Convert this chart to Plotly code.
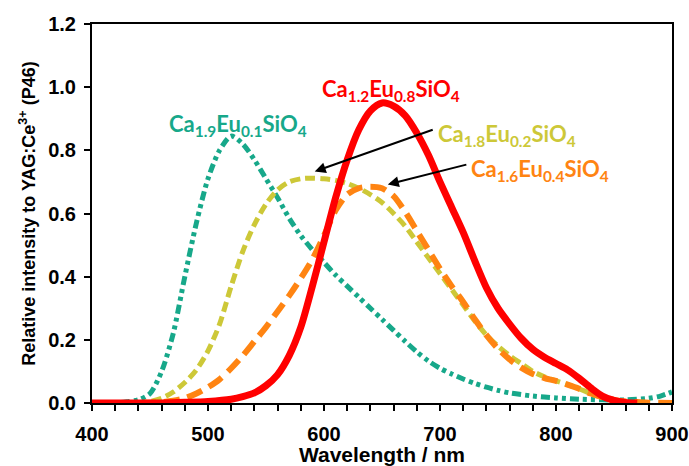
import plotly.graph_objects as go

# ---------------- data ----------------
teal_x = [400, 420, 430, 440, 450, 460, 470, 480, 490, 500, 510, 520, 530, 540, 550, 560, 570, 580, 590, 600,
          610, 620, 630, 640, 650, 660, 670, 680, 690, 700, 710, 720, 730, 740, 750, 760, 780, 800, 820, 840,
          860, 880, 890, 900]
teal_y = [0.0, 0.0, 0.004, 0.01, 0.03, 0.10, 0.22, 0.40, 0.57, 0.71, 0.80, 0.845, 0.82, 0.77, 0.71, 0.65, 0.585, 0.53, 0.485, 0.445,
          0.405, 0.37, 0.335, 0.30, 0.265, 0.23, 0.195, 0.162, 0.133, 0.11, 0.092, 0.076, 0.062, 0.05, 0.04, 0.032, 0.022, 0.016, 0.012, 0.01,
          0.01, 0.015, 0.022, 0.035]

yellow_x = [400, 440, 450, 460, 470, 480, 490, 500, 510, 520, 530, 540, 550, 560, 570, 580, 590, 600, 610, 620,
            630, 640, 650, 660, 670, 680, 690, 700, 710, 720, 730, 740, 750, 760, 770, 780, 790, 800, 810, 820,
            830, 840, 850, 860]
yellow_y = [0.0, 0.0, 0.005, 0.015, 0.035, 0.065, 0.105, 0.165, 0.25, 0.37, 0.48, 0.565, 0.63, 0.675, 0.70, 0.71, 0.712, 0.71, 0.705, 0.695,
            0.68, 0.66, 0.635, 0.60, 0.56, 0.51, 0.46, 0.41, 0.36, 0.31, 0.26, 0.215, 0.18, 0.15, 0.125, 0.10, 0.083, 0.07, 0.058, 0.045,
            0.03, 0.017, 0.008, 0.003]

orange_x = [400, 440, 460, 470, 480, 490, 500, 510, 520, 530, 540, 550, 560, 570, 580, 590, 600, 610, 620, 630,
            640, 650, 660, 670, 680, 690, 700, 710, 720, 730, 740, 750, 760, 770, 780, 790, 800, 810, 820, 830,
            840, 850, 860, 870, 880, 900]
orange_y = [0.0, 0.0, 0.003, 0.007, 0.015, 0.03, 0.05, 0.075, 0.11, 0.15, 0.195, 0.24, 0.29, 0.34, 0.395, 0.455, 0.53, 0.61, 0.66, 0.68,
            0.685, 0.68, 0.655, 0.605, 0.545, 0.485, 0.425, 0.37, 0.32, 0.265, 0.215, 0.172, 0.138, 0.112, 0.092, 0.079, 0.07, 0.058, 0.045, 0.03,
            0.018, 0.01, 0.005, 0.003, 0.001, 0.0]

red_x = [400, 420, 440, 460, 480, 500, 520, 530, 540, 550, 560, 570, 580, 590, 600, 610, 620, 630, 640, 650,
         660, 670, 680, 690, 700, 710, 720, 730, 740, 750, 760, 770, 780, 790, 800, 810, 820, 830, 840, 850,
         860, 870]
red_y = [0.0, 0.0, 0.0, 0.0, 0.002, 0.005, 0.012, 0.02, 0.032, 0.055, 0.09, 0.15, 0.24, 0.37, 0.51, 0.65, 0.77, 0.865, 0.925, 0.95,
         0.94, 0.91, 0.855, 0.785, 0.70, 0.62, 0.54, 0.45, 0.365, 0.30, 0.25, 0.205, 0.17, 0.145, 0.125, 0.105, 0.078, 0.048, 0.022, 0.008,
         0.002, 0.0]

x_ticks = [400, 500, 600, 700, 800, 900]
y_ticks = [0.0, 0.2, 0.4, 0.6, 0.8, 1.0, 1.2]

TEAL = "#17a88a"
YELLOW = "#cdc838"
ORANGE = "#ff8412"
RED = "#ff0000"

fig = go.Figure()
fig.add_trace(go.Scatter(x=teal_x, y=teal_y, mode="lines",
                         line=dict(color=TEAL, width=5, shape="spline", smoothing=0.8,
                                   dash="9px,4px,4px,4px,4px,4px")))
fig.add_trace(go.Scatter(x=yellow_x, y=yellow_y, mode="lines",
                         line=dict(color=YELLOW, width=5, shape="spline", smoothing=0.8, dash="10px,5px")))
fig.add_trace(go.Scatter(x=orange_x, y=orange_y, mode="lines",
                         line=dict(color=ORANGE, width=6, shape="spline", smoothing=0.8, dash="16px,8px")))
fig.add_trace(go.Scatter(x=red_x, y=red_y, mode="lines",
                         line=dict(color=RED, width=7, shape="spline", smoothing=0.8)))

lab_font = "Lato, Open Sans, sans-serif"


def formula(a, b):
    return "<b>Ca<sub>%s</sub>Eu<sub>%s</sub>SiO<sub>4</sub></b>" % (a, b)


labels = [
    (formula("1.9", "0.1"), 526, 0.88, TEAL),
    (formula("1.2", "0.8"), 658, 0.99, RED),
    (formula("1.8", "0.2"), 758, 0.849, YELLOW),
    (formula("1.6", "0.4"), 786, 0.738, ORANGE),
]
for txt, xx, yy, col in labels:
    fig.add_annotation(x=xx, y=yy, text=txt, showarrow=False, xanchor="center", yanchor="middle",
                       font=dict(family=lab_font, size=22, color=col))

arrows = [
    (592, 0.733, 695, 0.867),
    (655, 0.692, 724, 0.756),
]
for hx, hy, tx, ty in arrows:
    fig.add_annotation(x=hx, y=hy, ax=tx, ay=ty, axref="x", ayref="y", xref="x", yref="y",
                       text="", showarrow=True, arrowhead=2, arrowsize=1.1, arrowwidth=2, arrowcolor="black")

axis_family = "Liberation Sans, Arial, sans-serif"
axis_font = dict(family=axis_family, size=20, color="black")

fig.update_xaxes(range=[400, 900], tickvals=x_ticks, ticktext=["<b>%d</b>" % v for v in x_ticks],
                 ticks="outside", ticklen=6, tickwidth=2, tickcolor="black", ticklabelstandoff=6,
                 minor=dict(dtick=20, ticks="outside", ticklen=6, tickwidth=1.5, tickcolor="black"),
                 showline=True, linewidth=2, linecolor="black", mirror=True, showgrid=False, zeroline=False,
                 tickfont=axis_font, automargin=False,
                 title=dict(text="<b>Wavelength / nm</b>", font=dict(family=axis_family, size=21, color="black"),
                            standoff=4))
fig.update_yaxes(range=[0, 1.2], tickvals=y_ticks, ticktext=["<b>%.1f</b>" % v for v in y_ticks],
                 ticks="outside", ticklen=6, tickwidth=2, tickcolor="black", ticklabelstandoff=4,
                 showline=True, linewidth=2, linecolor="black", mirror=True, showgrid=False, zeroline=False,
                 tickfont=axis_font, automargin=False,
                 title=dict(text="<b>Relative intensity to YAG:Ce<sup>3+</sup> (P46)</b>",
                            font=dict(family=axis_family, size=18, color="black"), standoff=8))

fig.update_layout(width=689, height=466, margin=dict(l=92, r=17, t=24, b=63),
                  plot_bgcolor="white", paper_bgcolor="white", showlegend=False,
                  font=dict(color="black"))

fig.write_html("out.html")
